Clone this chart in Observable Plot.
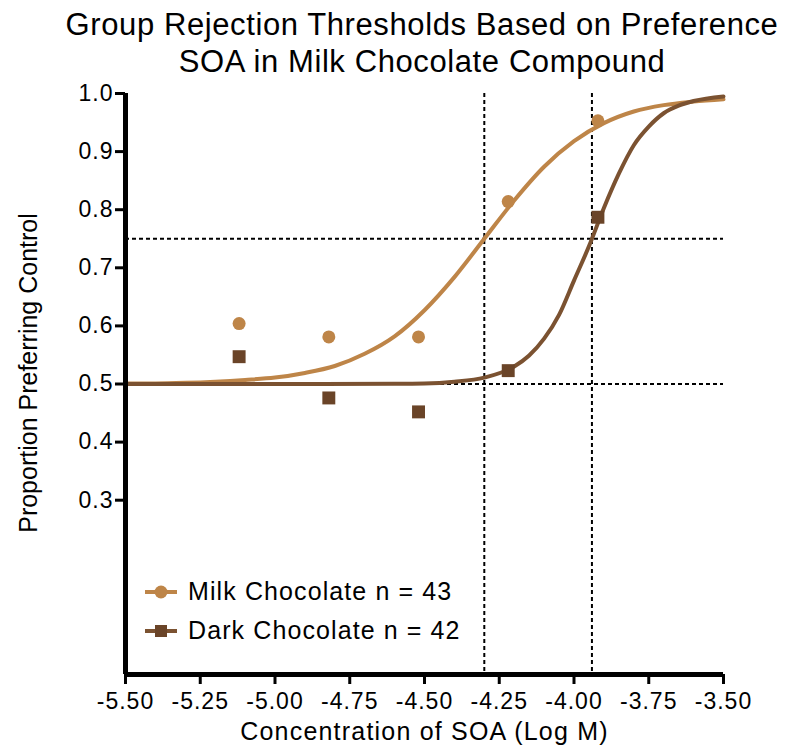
<!DOCTYPE html>
<html>
<head>
<meta charset="utf-8">
<script src="https://cdn.jsdelivr.net/npm/d3@7"></script>
<script src="https://cdn.jsdelivr.net/npm/@observablehq/plot@0.6"></script>
<style>
  html, body { margin: 0; padding: 0; background: #fff; }
  #wrap { position: relative; width: 788px; height: 751px; font-family: "Liberation Sans", Arial, sans-serif; color: #000; }
  #title { width: 788px; box-sizing: border-box; padding: 6px 0 0 56px; height: 80px; text-align: center; font-size: 31px; line-height: 37px; letter-spacing: 0.6px; white-space: nowrap; }
  #legend { position: absolute; left: 145px; top: 572px; font-size: 25px; letter-spacing: 1.1px; }
  #legend .row { display: flex; align-items: center; height: 39px; }
  #legend svg { margin-right: 11px; }
</style>
</head>
<body>
<div id="wrap">
  <div id="title">Group Rejection Thresholds Based on Preference<br>SOA in Milk Chocolate Compound</div>
  <div id="chart"></div>
  <div id="legend"></div>
</div>
<script>
// ---- data ----
const concentrations = [-5.12, -4.82, -4.52, -4.22, -3.92];
const milkValues = [0.604, 0.581, 0.581, 0.814, 0.953];
const darkValues = [0.547, 0.476, 0.452, 0.523, 0.787];

const milkFitX = [-5.5, -5.4, -5.3, -5.2, -5.1, -5.0, -4.9, -4.8, -4.7, -4.6, -4.5, -4.4, -4.3, -4.2, -4.1, -4.0, -3.9, -3.8, -3.7, -3.6, -3.5];
const milkFitY = [0.501, 0.501, 0.502, 0.504, 0.507, 0.511, 0.519, 0.531, 0.552, 0.582, 0.627, 0.684, 0.750, 0.816, 0.874, 0.918, 0.949, 0.969, 0.980, 0.986, 0.990];

const darkFitX = [-5.5, -5.0, -4.6, -4.5, -4.4, -4.3, -4.2, -4.15, -4.1, -4.05, -4.0, -3.95, -3.9, -3.85, -3.8, -3.75, -3.7, -3.65, -3.6, -3.5];
const darkFitY = [0.500, 0.500, 0.5005, 0.501, 0.504, 0.511, 0.530, 0.549, 0.578, 0.619, 0.678, 0.737, 0.803, 0.862, 0.911, 0.943, 0.966, 0.979, 0.987, 0.995];

const thresholdX = [-4.30, -3.94];
const referenceY = [0.5, 0.75];

const xTicks = [-5.5, -5.25, -5.0, -4.75, -4.5, -4.25, -4.0, -3.75, -3.5];
const yTicks = [0.3, 0.4, 0.5, 0.6, 0.7, 0.8, 0.9, 1.0];

const seriesNames = ["Milk Chocolate n = 43", "Dark Chocolate n = 42"];
const xLabel = "Concentration of SOA (Log M)";
const yLabel = "Proportion Preferring Control";

const milkColor = "#BE8548";
const darkLineColor = "#7B5231";
const darkMarkColor = "#6A4428";

// ---- tables ----
const milkPts = concentrations.map((x, i) => ({x, y: milkValues[i]}));
const darkPts = concentrations.map((x, i) => ({x, y: darkValues[i]}));
const milkFit = milkFitX.map((x, i) => ({x, y: milkFitY[i]}));
const darkFit = darkFitX.map((x, i) => ({x, y: darkFitY[i]}));

const chart = Plot.plot({
  width: 788,
  height: 671,
  marginLeft: 125,
  marginRight: 65,
  marginTop: 13,
  marginBottom: 77,
  style: {fontFamily: "'Liberation Sans', Arial, sans-serif", background: "white", color: "black", overflow: "visible"},
  x: {domain: [-5.5, -3.5]},
  y: {domain: [0, 1]},
  marks: [
    Plot.ruleY(referenceY, {stroke: "black", strokeWidth: 2, strokeDasharray: "4,3"}),
    Plot.ruleX(thresholdX, {stroke: "black", strokeWidth: 2, strokeDasharray: "4,3"}),
    Plot.line(milkFit, {x: "x", y: "y", stroke: milkColor, strokeWidth: 4, curve: "monotone-x"}),
    Plot.line(darkFit, {x: "x", y: "y", stroke: darkLineColor, strokeWidth: 4, curve: "monotone-x"}),
    Plot.dot(milkPts, {x: "x", y: "y", r: 6.5, fill: milkColor, symbol: "circle"}),
    Plot.dot(darkPts, {x: "x", y: "y", r: 7.3, fill: darkMarkColor, symbol: "square"}),
    Plot.axisX({ticks: xTicks, tickFormat: d => d.toFixed(2), tickSize: 10, tickPadding: 8, strokeWidth: 3, fontSize: 23, label: null}),
    Plot.axisY({ticks: yTicks, tickFormat: d => d.toFixed(1), tickSize: 10, tickPadding: 2, strokeWidth: 3, fontSize: 23, label: null}),
    Plot.ruleX([-5.5], {stroke: "black", strokeWidth: 5}),
    Plot.ruleY([0], {stroke: "black", strokeWidth: 5}),
    Plot.text([yLabel], {text: d => d, frameAnchor: "left", textAnchor: "middle", lineAnchor: "middle", rotate: -90, dx: -97, dy: -11, fontSize: 25}),
    Plot.text([xLabel], {text: d => d, frameAnchor: "bottom", textAnchor: "middle", lineAnchor: "middle", dy: 57, fontSize: 25})
  ]
});
document.getElementById("chart").appendChild(chart);
// tick labels: larger and slightly wider, as in the reference
d3.select(chart).selectAll("g[aria-label='x-axis tick label'], g[aria-label='y-axis tick label']")
  .attr("font-size", 23)
  .style("font-size", "23px")
  .style("letter-spacing", "1px");
d3.select(chart).selectAll("g[aria-label='x-axis tick label'] text, g[aria-label='y-axis tick label'] text")
  .style("font-size", "23px");
d3.select(chart).selectAll("g[aria-label='text'] text")
  .filter(function() { return this.textContent === xLabel; })
  .style("letter-spacing", "1.2px");

// ---- legend ----
const legend = d3.select("#legend");
const legendItems = [
  {name: seriesNames[0], line: milkColor, mark: milkColor, shape: "circle"},
  {name: seriesNames[1], line: darkLineColor, mark: darkMarkColor, shape: "square"}
];
legendItems.forEach(item => {
  const row = legend.append("div").attr("class", "row");
  const s = row.append("svg").attr("width", 32).attr("height", 16);
  s.append("line").attr("x1", 0).attr("x2", 32).attr("y1", 8).attr("y2", 8)
    .attr("stroke", item.line).attr("stroke-width", 4);
  if (item.shape === "circle") {
    s.append("circle").attr("cx", 16).attr("cy", 8).attr("r", 6.5).attr("fill", item.mark);
  } else {
    s.append("rect").attr("x", 10).attr("y", 2).attr("width", 12).attr("height", 12).attr("fill", item.mark);
  }
  row.append("span").text(item.name);
});
</script>
</body>
</html>
